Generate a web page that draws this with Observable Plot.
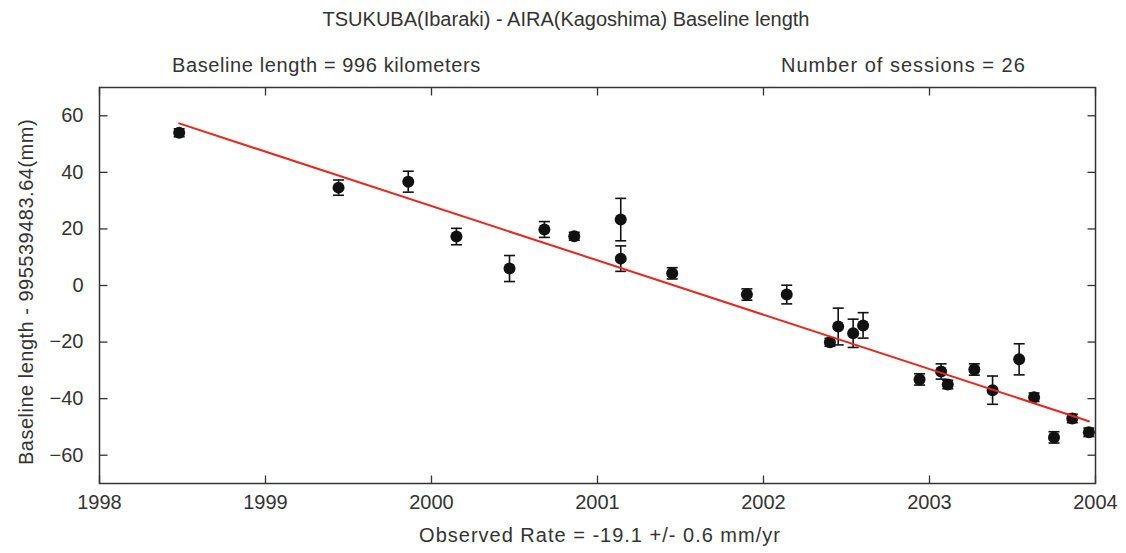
<!DOCTYPE html>
<html><head><meta charset="utf-8">
<script src="https://cdn.jsdelivr.net/npm/d3@7"></script>
<script src="https://cdn.jsdelivr.net/npm/@observablehq/plot@0.6"></script>
<style>
body{margin:0;background:#fff;}
#wrap{position:relative;width:1126px;height:553px;font-family:"Liberation Sans",Arial,sans-serif;color:#333;}
#chart{position:absolute;left:0;top:0;}
.t{position:absolute;white-space:nowrap;font-size:20px;line-height:1;}
#title{left:566px;top:9px;transform:translateX(-50%);letter-spacing:0px;}
#sub1{left:172px;top:55px;letter-spacing:0.6px;}
#sub2{left:781px;top:55px;letter-spacing:1px;}
#cap{left:600px;top:525px;transform:translateX(-50%);letter-spacing:1px;}
#ylab{left:26px;top:292px;transform:translate(-50%,-50%) rotate(-90deg);letter-spacing:0.5px;}
</style></head><body>
<div id="wrap">
  <div id="chart"></div>
  <div class="t" id="title">TSUKUBA(Ibaraki) - AIRA(Kagoshima) Baseline length</div>
  <div class="t" id="sub1">Baseline length = 996 kilometers</div>
  <div class="t" id="sub2">Number of sessions = 26</div>
  <div class="t" id="cap">Observed Rate = -19.1 +/- 0.6 mm/yr</div>
  <div class="t" id="ylab">Baseline length - 995539483.64(mm)</div>
</div>
<script>
// Session epochs (decimal year), baseline residuals (mm) and 1-sigma errors (mm)
const years = [1998.48, 1999.44, 1999.86, 2000.15, 2000.47, 2000.68, 2000.86, 2001.14, 2001.14, 2001.45,
               2001.90, 2002.14, 2002.40, 2002.45, 2002.54, 2002.60, 2002.94, 2003.07, 2003.11, 2003.27,
               2003.38, 2003.54, 2003.63, 2003.75, 2003.86, 2003.96];
const values = [54.0, 34.6, 36.7, 17.3, 6.0, 19.8, 17.4, 23.3, 9.5, 4.3,
                -3.2, -3.2, -20.1, -14.5, -16.9, -14.1, -33.2, -30.4, -35.0, -29.7,
                -37.0, -26.1, -39.5, -53.7, -47.0, -51.9];
const errors = [1.4, 2.7, 3.7, 2.9, 4.6, 2.8, 1.4, 7.5, 4.5, 2.0,
                2.0, 3.3, 1.4, 6.5, 5.0, 4.5, 2.0, 2.7, 1.5, 2.0,
                5.0, 5.5, 1.5, 2.0, 1.5, 1.5];
// Fitted trend line end points
const fitYears = [1998.48, 2003.96];
const fitValues = [57.3, -48.0];
// Axis ticks
const xTicks = [1998, 1999, 2000, 2001, 2002, 2003, 2004];
const yTicks = [-60, -40, -20, 0, 20, 40, 60];

const data = years.map((x, i) => ({x, v: values[i], e: errors[i]}));
const fit = fitYears.map((x, i) => ({x, v: fitValues[i]}));

const seg = (dx, dy) => ({draw(ctx) { ctx.moveTo(0, 0); ctx.lineTo(dx, dy); }});
const capSym = {draw(ctx) { ctx.moveTo(-5.5, 0); ctx.lineTo(5.5, 0); }};
const ink = "#333";

const plot = Plot.plot({
  width: 1126, height: 553,
  marginTop: 87, marginBottom: 70, marginLeft: 99, marginRight: 31,
  style: {fontFamily: '"Liberation Sans", Arial, sans-serif', fontSize: "20px", color: ink, letterSpacing: "0px", background: "transparent"},
  x: {domain: [1998, 2004], label: null},
  y: {domain: [-70, 70], label: null},
  marks: [
    Plot.axisX(xTicks, {tickSize: 0, tickPadding: 11, tickFormat: d => String(d), label: null, fill: ink}),
    Plot.axisY(yTicks, {tickSize: 0, tickPadding: 16, label: null, fill: ink}),
    Plot.dot(xTicks, {x: d => d, frameAnchor: "bottom", symbol: seg(0, -8), stroke: ink, strokeWidth: 1.3, fill: "none"}),
    Plot.dot(xTicks, {x: d => d, frameAnchor: "top", symbol: seg(0, 8), stroke: ink, strokeWidth: 1.3, fill: "none"}),
    Plot.dot(yTicks, {y: d => d, frameAnchor: "left", symbol: seg(8, 0), stroke: ink, strokeWidth: 1.3, fill: "none"}),
    Plot.dot(yTicks, {y: d => d, frameAnchor: "right", symbol: seg(-8, 0), stroke: ink, strokeWidth: 1.3, fill: "none"}),
    Plot.frame({stroke: ink, strokeWidth: 1.5}),
    Plot.ruleX(data, {x: "x", y1: d => d.v - d.e, y2: d => d.v + d.e, stroke: "#111", strokeWidth: 1.6}),
    Plot.dot(data, {x: "x", y: d => d.v + d.e, symbol: capSym, stroke: "#111", strokeWidth: 1.6, fill: "none"}),
    Plot.dot(data, {x: "x", y: d => d.v - d.e, symbol: capSym, stroke: "#111", strokeWidth: 1.6, fill: "none"}),
    Plot.dot(data, {x: "x", y: "v", r: 6, fill: "#111", stroke: "none"}),
    Plot.line(fit, {x: "x", y: "v", stroke: "#e8261f", strokeWidth: 2})
  ]
});
document.getElementById("chart").appendChild(plot);
</script>
</body></html>
